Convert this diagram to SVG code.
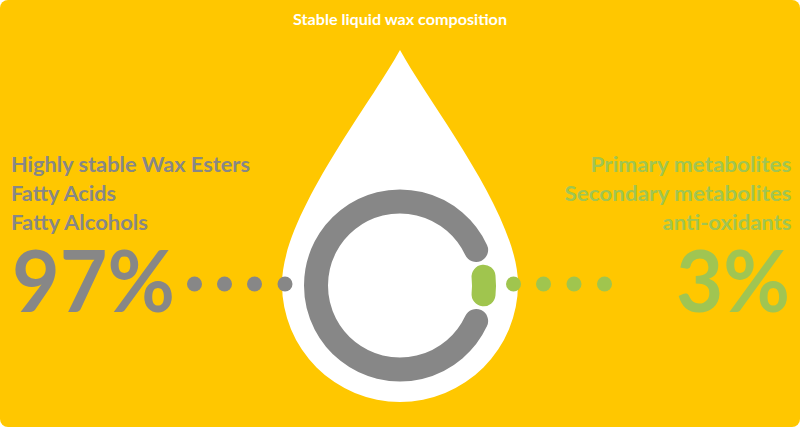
<svg xmlns="http://www.w3.org/2000/svg" width="800" height="427" viewBox="0 0 800 427">
  <style>
    .t { font-family: Lato, "Open Sans", "Liberation Sans", sans-serif; font-weight: bold; }
    .gray { fill: #878787; }
    .green { fill: #A0C552; }
    .lbl { font-size: 20px; }
    .big { font-size: 86px; }
    .gdot { fill: #878787; }
    .ndot { fill: #A0C54E; }
  </style>
  <rect id="background" x="0" y="0" width="800" height="427" rx="8" ry="8" fill="#FFC700"/>
  <text id="title" class="t" x="400" y="25" font-size="16" fill="#FFFFFF" text-anchor="middle" textLength="214" lengthAdjust="spacingAndGlyphs">Stable liquid wax composition</text>

  <g id="drop">
    <path d="M400,50 C430,105 518,215 518,284 A118,118 0 0 1 282,284 C282,215 370,105 400,50 Z" fill="#FFFFFF"/>
  </g>

  <g id="ring">
    <path d="M476.13,250 A84,84 0 1 0 476.13,321" fill="none" stroke="#878787" stroke-width="24" stroke-linecap="round"/>
  </g>
  <g id="green-segment">
    <path d="M483.54,276.7 A84,84 0 0 1 483.54,294.3" fill="none" stroke="#A0C54E" stroke-width="24" stroke-linecap="round"/>
  </g>

  <g id="connectors">
    <circle class="gdot" cx="194.5" cy="284" r="7.5"/>
    <circle class="gdot" cx="224.5" cy="284" r="7.5"/>
    <circle class="gdot" cx="254.5" cy="284" r="7.5"/>
    <circle class="gdot" cx="285" cy="284" r="7.5"/>
    <circle class="ndot" cx="513.5" cy="284" r="7.5"/>
    <circle class="ndot" cx="543.5" cy="284" r="7.5"/>
    <circle class="ndot" cx="574" cy="284" r="7.5"/>
    <circle class="ndot" cx="604.5" cy="284" r="7.5"/>
  </g>

  <g id="left-node">
    <text class="t gray lbl" x="11" y="172" textLength="239" lengthAdjust="spacingAndGlyphs">Highly stable Wax Esters</text>
    <text class="t gray lbl" x="11" y="201" textLength="105" lengthAdjust="spacingAndGlyphs">Fatty Acids</text>
    <text class="t gray lbl" x="11" y="230" textLength="137" lengthAdjust="spacingAndGlyphs">Fatty Alcohols</text>
    <text class="t gray big" x="12" y="312" textLength="163" lengthAdjust="spacingAndGlyphs">97%</text>
  </g>

  <g id="right-node">
    <text class="t green lbl" x="791.5" y="172" text-anchor="end" textLength="201" lengthAdjust="spacingAndGlyphs">Primary metabolites</text>
    <text class="t green lbl" x="791.5" y="201" text-anchor="end" textLength="227" lengthAdjust="spacingAndGlyphs">Secondary metabolites</text>
    <text class="t green lbl" x="791.5" y="230" text-anchor="end" textLength="129" lengthAdjust="spacingAndGlyphs">anti-oxidants</text>
    <text class="t green big" x="790" y="312" text-anchor="end" textLength="114" lengthAdjust="spacingAndGlyphs">3%</text>
  </g>
</svg>
